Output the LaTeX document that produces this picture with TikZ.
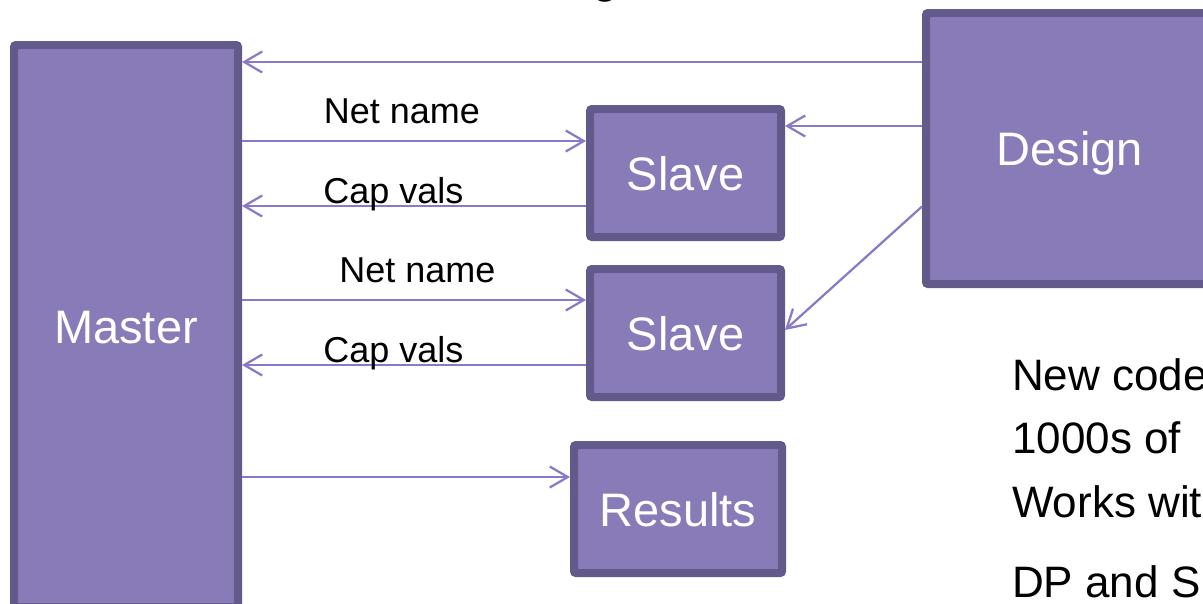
\documentclass[tikz,border=0pt]{standalone}
\usepackage{fontspec}
\setmainfont{Liberation Sans}
\usepackage{tikz}
\usetikzlibrary{
  arrows.meta,
  positioning
}
\definecolor{boxfill}{RGB}{137,123,183}
\definecolor{boxline}{RGB}{99,89,139}
\definecolor{wire}{RGB}{136,122,198}

\begin{document}
\begin{tikzpicture}[x=1pt,y=-1pt,
      block/.style={
         rectangle,
         rounded corners=2pt,
         line width=8pt,
         draw=boxline,
         fill=boxfill,
         text=white,
         inner sep=0pt,
         font=\fontsize{47}{56}\selectfont,
         text height=34pt,
         text depth=0pt
      },
      lbl/.style={font=\fontsize{36}{43}\selectfont,anchor=base,inner sep=0pt},
      note/.style={font=\fontsize{44}{52}\selectfont,anchor=base west,inner sep=0pt},
      tip/.style={-{Straight Barb[length=18pt,width=21pt]},line width=2.25pt,draw=wire},
      %text height=1.5ex,text depth=.25ex
    ]
    \useasboundingbox (0,0) rectangle (1203,603);
    \node (title) [anchor=base,inner sep=0pt,font=\fontsize{47}{56}\selectfont] at (606,-8) {g};
    \node (master) [block, minimum width=224pt, minimum height=562pt] at (126,326) {Master};
    \node (slave1) [block, minimum width=191pt, minimum height=128pt] at (685.5,173) {Slave};
    \node (slave2) [block, minimum width=191pt, minimum height=128pt, below=24pt of slave1] {Slave};
    \node (results) [block, minimum width=208pt, minimum height=128pt] at (678,509) {Results};
    \node (design) [block, minimum width=288pt, minimum height=271pt] at (1070,148.5) {Design};
    \node (t1) [note] at (1012,390) {New code};
    \node (t2) [note] at (1012,453) {1000s of};
    \node (t3) [note] at (1012,517) {Works wit};
    \node (t4) [note] at (1012,597) {DP and S};
    % design to master and slaves
    \coordinate (d1) at ([yshift=86.5pt]design.west);
    \coordinate (d2) at ([yshift=22.5pt]design.west);
    \coordinate (d3) at ([yshift=-58pt]design.west);
    \draw[tip] (d1) -- (d1 -| master.east);
    \draw[tip] (d2) -- (d2 -| slave1.east);
    \draw[tip] (d3) -- ([yshift=3pt]slave2.east);
    % master to slaves
    \coordinate (s1a) at ([yshift=32pt]slave1.west);
    \coordinate (s1b) at ([yshift=-33pt]slave1.west);
    \coordinate (s2a) at ([yshift=33pt]slave2.west);
    \coordinate (s2b) at ([yshift=-32pt]slave2.west);
    \coordinate (r1) at ([yshift=32pt]results.west);
    \draw[tip] (s1a -| master.east) -- node[lbl, pos=.465, yshift=18pt] {Net name} (s1a);
    \draw[tip] (s1b) -- node[lbl, pos=.56, yshift=3pt] {Cap vals} (s1b -| master.east);
    \draw[tip] (s2a -| master.east) -- node[lbl, pos=.51, yshift=18pt] {Net name} (s2a);
    \draw[tip] (s2b) -- node[lbl, pos=.56, yshift=3pt] {Cap vals} (s2b -| master.east);
    \draw[tip] (r1 -| master.east) -- (r1);
\end{tikzpicture}
\end{document}
